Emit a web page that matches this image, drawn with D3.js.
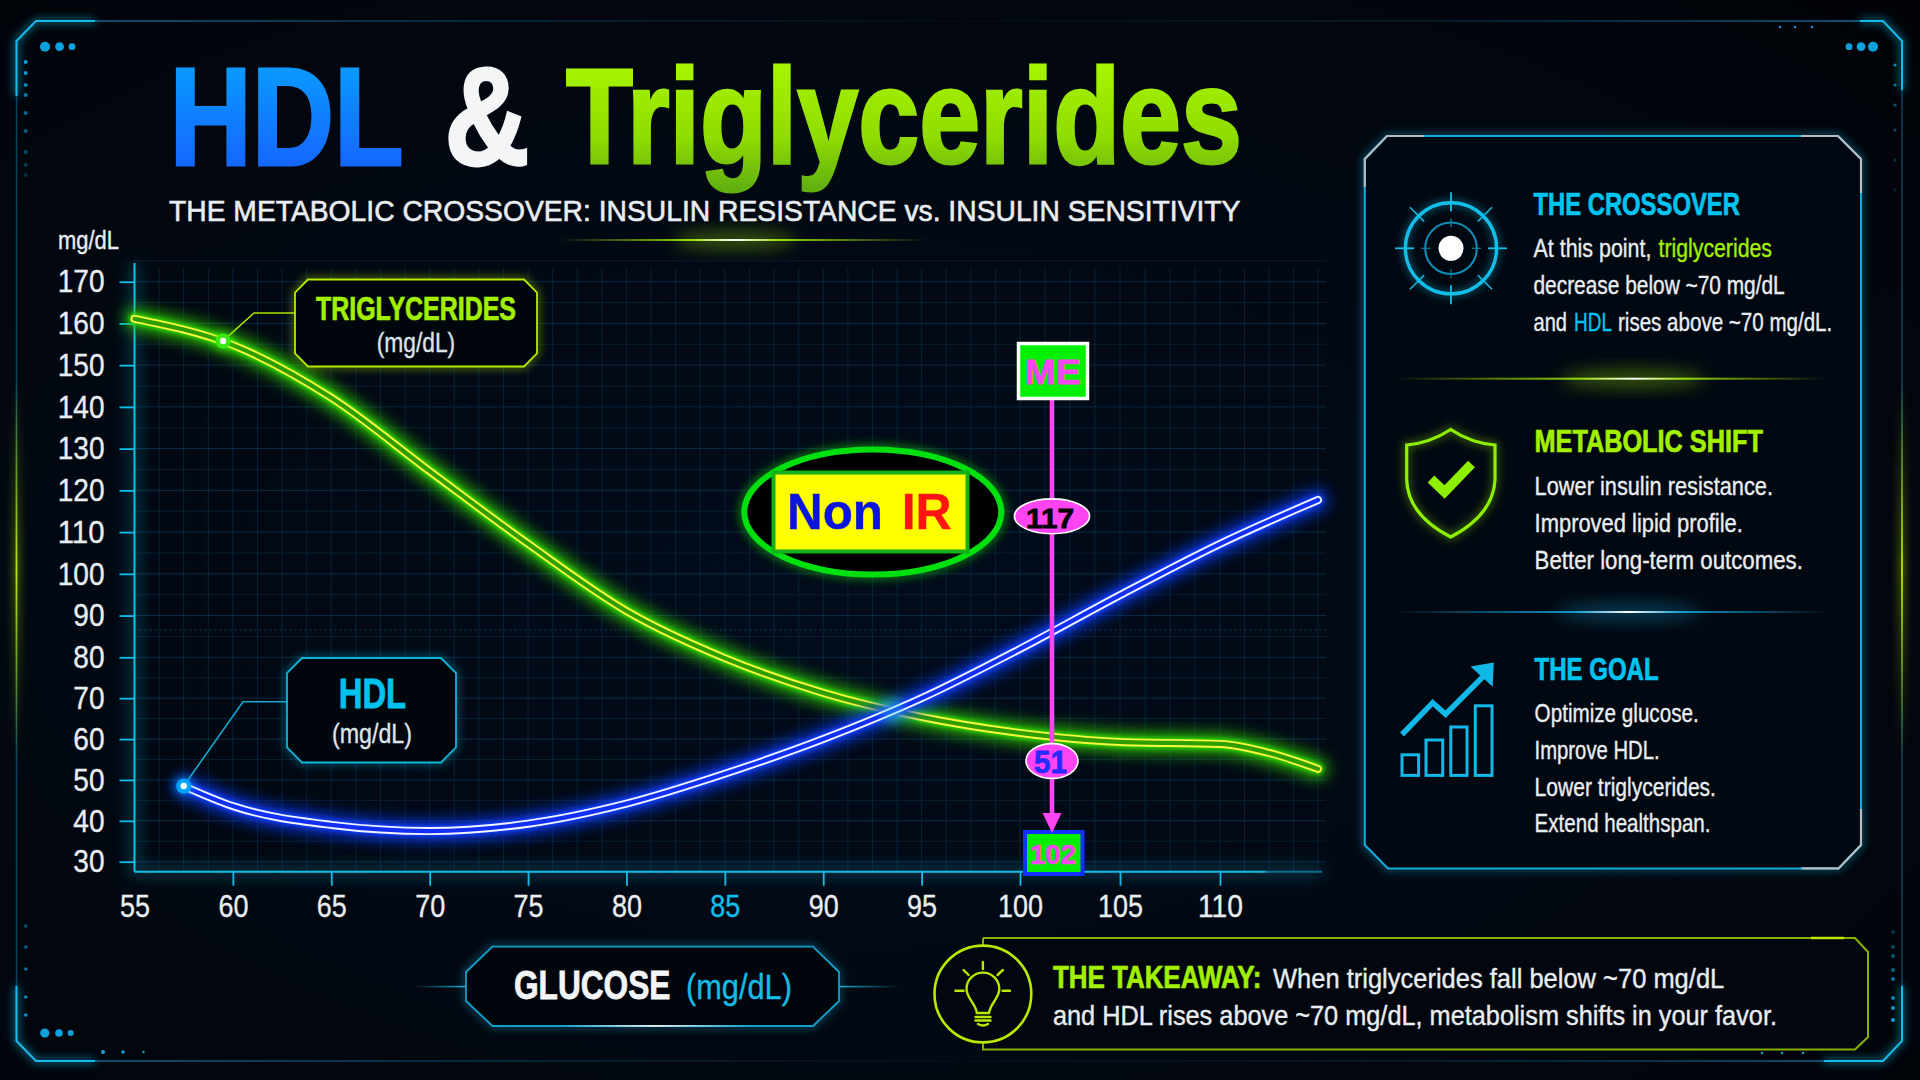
<!DOCTYPE html>
<html lang="en">
<head>
<meta charset="UTF-8" />
<title>HDL &amp; Triglycerides</title>
<style>
  html, body { margin: 0; padding: 0; background: #02050b; overflow: hidden; }
  svg { display: block; }
  text { font-family: "Liberation Sans Narrow", "Liberation Sans", Arial, sans-serif; }
</style>
</head>
<body>
<svg id="chart" width="1920" height="1080"></svg>
<script src="https://d3js.org/d3.v7.min.js"></script>
<script>
// values
const triGlucose = [55, 60, 65, 70, 75, 80, 85, 90, 95, 100, 105, 110, 112.5, 115];
const triValues = [161.1, 154.8, 142.2, 124.6, 107.2, 91.1, 79.8, 71.3, 65.4, 61.5, 59.3, 58.8, 56.6, 52.7];
const hdlGlucose = [57.5, 60, 65, 70, 75, 80, 85, 90, 95, 100, 105, 110, 115];
const hdlValues = [48.5, 43.6, 39.0, 37.5, 39.3, 44.2, 51.5, 60.0, 70.0, 82.0, 94.9, 107.2, 117.7];
const xTicks = [55, 60, 65, 70, 75, 80, 85, 90, 95, 100, 105, 110];
const yTicks = [30, 40, 50, 60, 70, 80, 90, 100, 110, 120, 130, 140, 150, 160, 170];
const triMarker = [59.5, 155.8];
const meGlucose = 101.6;

const CYAN = '#12bfe9', LIME = '#a2f000', WHITE = '#e9edf0', MAGENTA = '#ff44f2';

const svg = d3.select('#chart');
const defs = svg.append('defs');

function blur(id, s) {
  defs.append('filter').attr('id', id)
    .attr('x', '-50%').attr('y', '-50%').attr('width', '200%').attr('height', '200%')
    .attr('filterUnits', 'objectBoundingBox')
    .append('feGaussianBlur').attr('stdDeviation', s);
}
blur('b2', 2); blur('b4', 4); blur('b8', 8); blur('b14', 14);

function linGrad(id, coords, stops) {
  const g = defs.append('linearGradient').attr('id', id).attr('gradientUnits', 'userSpaceOnUse')
    .attr('x1', coords[0]).attr('y1', coords[1]).attr('x2', coords[2]).attr('y2', coords[3]);
  stops.forEach(s => g.append('stop').attr('offset', s[0]).attr('stop-color', s[1]).attr('stop-opacity', s[2] === undefined ? 1 : s[2]));
}
// title gradients run in the text's own space, baseline at 0
linGrad('hdlTitle', [0, -103, 0, 1], [[0, '#0a9cff'], [1, '#1566ff']]);
linGrad('triTitle', [0, -101, 0, 25], [[0, '#a8f500'], [0.6, '#8fdc00'], [1, '#62b010']]);

// text helper, w squeezes the run to the width it has in the picture
function label(parent, x, y, str, size, fill, o = {}) {
  const t = parent.append('text').text(str)
    .attr('font-size', size).attr('fill', fill)
    .attr('font-weight', o.bold ? 700 : 400)
    .attr('stroke', fill).attr('stroke-width', o.thick === undefined ? 0.35 : o.thick);
  if (o.sans) t.style('font-family', '"Liberation Sans", Arial, sans-serif');
  const sx = o.w ? o.w / t.node().getComputedTextLength() : 1;
  t.attr('transform', `translate(${x},${y}) scale(${sx},1)`);
  return t;
}

// background
const bg = defs.append('radialGradient').attr('id', 'bgGrad').attr('cx', '45%').attr('cy', '55%').attr('r', '75%');
bg.append('stop').attr('offset', 0).attr('stop-color', '#020c1b');
bg.append('stop').attr('offset', 0.7).attr('stop-color', '#02070f');
bg.append('stop').attr('offset', 1).attr('stop-color', '#010308');
svg.append('rect').attr('width', 1920).attr('height', 1080).attr('fill', 'url(#bgGrad)');

// outer frame
const frame = svg.append('g').attr('fill', 'none');
linGrad('frameTop', [36, 0, 1884, 0], [[0, '#0f6f9c'], [0.3, '#0b3c58', 0.6], [0.5, '#0b3c58', 0.1], [0.75, '#0b3c58', 0.5], [1, '#0f6f9c']]);
linGrad('sideGreen', [0, 380, 0, 760], [[0, '#a8e000', 0], [0.5, '#c8f000', 0.9], [1, '#a8e000', 0]]);
frame.append('path').attr('d', 'M36,21H1883').attr('stroke', 'url(#frameTop)').attr('stroke-width', 1.5);
frame.append('path').attr('d', 'M36,1061H1883').attr('stroke', 'url(#frameTop)').attr('stroke-width', 1.5);
frame.append('path').attr('d', 'M16.5,41V1041M1902,41V1041').attr('stroke', '#0b4462').attr('stroke-width', 1.5);
const corners = 'M16.5,96V41L36,21H95 M1860,21H1883L1902,41V90 M16.5,986V1041L36,1061H95 M1824,1061H1883L1902,1041V986';
frame.append('path').attr('d', corners).attr('stroke', CYAN).attr('stroke-width', 4).attr('filter', 'url(#b4)').attr('opacity', 0.7);
frame.append('path').attr('d', corners).attr('stroke', '#17b9e6').attr('stroke-width', 2);
frame.append('path').attr('d', 'M16.5,380V760M1902,380V760').attr('stroke', 'url(#sideGreen)').attr('stroke-width', 1.8);
frame.append('path').attr('d', 'M16.5,380V760M1902,380V760').attr('stroke', 'url(#sideGreen)').attr('stroke-width', 6).attr('filter', 'url(#b4)').attr('opacity', 0.5);

// little hud dots
const deco = svg.append('g').attr('fill', '#0ea2dc');
[[45, 46.7, 5], [59.6, 46.7, 4.4], [72, 46.7, 3.4], [1873, 46.7, 5], [1861, 46.7, 4.4], [1849, 46.7, 3.4],
 [44.8, 1033, 4.6], [59, 1033, 3.8], [70.6, 1033, 3], [103, 1052, 2], [123, 1052, 1.8], [143.5, 1052, 1.2],
 [1780, 27, 1.2], [1795, 27, 1.2], [1812, 27, 1.2], [1762, 1053, 1.2], [1782, 1053, 1.2], [1803, 1053, 1.2]]
  .forEach(d => deco.append('circle').attr('cx', d[0]).attr('cy', d[1]).attr('r', d[2]));
[62, 73, 85, 95, 113, 131, 152, 165, 175].forEach((y, i) =>
  deco.append('circle').attr('cx', 25.7).attr('cy', y).attr('r', 2).attr('opacity', 1 - i * 0.09));
[926, 947, 969, 997, 1015].forEach((y, i) =>
  deco.append('circle').attr('cx', 25.8).attr('cy', y).attr('r', 1.8).attr('opacity', 0.5 + i * 0.1));
[932, 947, 956, 970, 979, 998, 1008, 1020].forEach((y, i) =>
  deco.append('circle').attr('cx', 1893).attr('cy', y).attr('r', 2).attr('opacity', 0.3 + i * 0.1));
[65, 85, 105, 130, 160, 190].forEach((y, i) =>
  deco.append('circle').attr('cx', 1895).attr('cy', y).attr('r', 1.6).attr('opacity', 0.8 - i * 0.12));

// title
const title = svg.append('g');
label(title, 169.5, 165, 'HDL', 140, 'url(#hdlTitle)', { bold: true, w: 234, thick: 3 });
label(title, 444.5, 165, '&', 140, '#f4f5f6', { bold: true, w: 85, thick: 3 });
label(title, 566, 163.3, 'Triglycerides', 136, 'url(#triTitle)', { bold: true, w: 676, thick: 3 });
label(title, 169, 221, 'THE METABOLIC CROSSOVER: INSULIN RESISTANCE vs. INSULIN SENSITIVITY', 29, WHITE, { w: 1072, thick: 0.6 });

function sparkle(parent, x1, x2, xc, y, color) {
  const id = 'sp' + y;
  linGrad(id, [x1, 0, x2, 0], [[0, color, 0], [(xc - x1) / (x2 - x1) - 0.12, color, 0.9], [(xc - x1) / (x2 - x1), '#ffffff', 1], [(xc - x1) / (x2 - x1) + 0.12, color, 0.9], [1, color, 0]]);
  parent.append('ellipse').attr('cx', xc).attr('cy', y).attr('rx', (x2 - x1) / 6).attr('ry', 10)
    .attr('fill', color).attr('opacity', 0.3).attr('filter', 'url(#b8)');
  parent.append('rect').attr('x', x1).attr('y', y - 1).attr('width', x2 - x1).attr('height', 2).attr('fill', `url(#${id})`);
}
sparkle(svg, 560, 928, 735, 240, LIME);

// scales, the picture's ticks are not quite evenly spaced
const x = d3.scaleLinear().domain([55, 100, 110, 115]).range([134.5, 1020, 1220, 1318]);
const y = d3.scaleLinear().domain([30, 80, 170]).range([861.7, 657.3, 281.7]);
const axisY = 871.7;

// grid
const grid = svg.append('g').attr('stroke', '#0c3350').attr('stroke-width', 1);
d3.range(55, 116, 1.25).slice(1).forEach(v =>
  grid.append('line').attr('x1', x(v)).attr('x2', x(v)).attr('y1', 268).attr('y2', axisY).attr('opacity', 0.55));
d3.range(30, 176, 5).forEach(v =>
  grid.append('line').attr('x1', x(55)).attr('x2', 1326).attr('y1', y(v)).attr('y2', y(v)).attr('opacity', v % 10 === 0 ? 0.8 : 0.5));
grid.append('line').attr('x1', x(55)).attr('x2', 1326).attr('y1', 630).attr('y2', 630)
  .attr('stroke', '#0e4266').attr('stroke-dasharray', '2,3');

// axes
const axisLines = svg.append('g').attr('fill', 'none');
linGrad('xAxisFade', [134, 0, 1322, 0], [[0, CYAN], [0.95, CYAN], [0.955, '#0d6d90'], [1, '#0d6d90']]);
axisLines.append('path').attr('d', `M${x(55)},263V${axisY}H1322`).attr('stroke', CYAN).attr('stroke-width', 7).attr('filter', 'url(#b8)').attr('opacity', 0.4);
axisLines.append('path').attr('d', `M${x(55)},263V${axisY}`).attr('stroke', CYAN).attr('stroke-width', 2);
axisLines.append('path').attr('d', `M${x(55)},${axisY}H1322`).attr('stroke', 'url(#xAxisFade)').attr('stroke-width', 2);

const gx = svg.append('g').attr('transform', `translate(0,${axisY})`)
  .call(d3.axisBottom(x).tickValues(xTicks).tickSize(14).tickPadding(9).tickSizeOuter(0));
const gy = svg.append('g').attr('transform', `translate(${x(55)},0)`)
  .call(d3.axisLeft(y).tickValues(yTicks).tickSize(15).tickPadding(15).tickSizeOuter(0));
[gx, gy].forEach(g => {
  g.select('.domain').remove();
  g.attr('font-family', null).attr('font-size', null);
  g.selectAll('line').attr('stroke', CYAN).attr('stroke-width', 1.8);
  g.selectAll('text').attr('fill', WHITE).attr('font-size', 32)
    .attr('stroke', WHITE).attr('stroke-width', 0.35);
});
gx.selectAll('.tick').filter(d => d === 55).select('line').remove();
gx.selectAll('text').attr('font-size', 31)
  .attr('fill', d => d === 85 ? '#12bfe9' : WHITE).attr('stroke', d => d === 85 ? '#12bfe9' : WHITE);
// tick digits are condensed in the picture
gy.selectAll('text').each(function (d) {
  const t = d3.select(this), px = +t.attr('x'), w = String(d).length * 15.6;
  t.attr('x', 0).attr('transform', `translate(${px},0) scale(${w / this.getComputedTextLength()},1)`);
});
gx.selectAll('text').each(function (d) {
  const w = String(d).length * 15;
  d3.select(this).attr('transform', `scale(${w / this.getComputedTextLength()},1)`);
});
label(svg, 58, 249, 'mg/dL', 26, WHITE, { w: 61 });

// curves
const line = d3.line().x(d => x(d[0])).y(d => y(d[1])).curve(d3.curveMonotoneX);
const triPts = d3.zip(triGlucose, triValues);
const hdlPts = d3.zip(hdlGlucose, hdlValues);

function tube(pts, glow, edge, core) {
  const g = svg.append('g').attr('fill', 'none').attr('stroke-linecap', 'round');
  g.append('path').attr('d', line(pts)).attr('stroke', glow).attr('stroke-width', 20).attr('filter', 'url(#b8)').attr('opacity', 0.85);
  g.append('path').attr('d', line(pts)).attr('stroke', glow).attr('stroke-width', 11).attr('filter', 'url(#b2)');
  g.append('path').attr('d', line(pts)).attr('stroke', edge).attr('stroke-width', 8);
  g.append('path').attr('d', line(pts)).attr('stroke', core).attr('stroke-width', 4.2);
}
tube(triPts, '#2ed400', '#f6f83c', '#2f9e00');
tube(hdlPts, '#0f3dff', '#f0f4ff', '#1230f5');

// crossover spot
svg.append('circle').attr('cx', x(93.5)).attr('cy', y(67)).attr('r', 12).attr('fill', '#2fd8e0').attr('opacity', 0.35).attr('filter', 'url(#b4)');

// chamfered box
function chamfer(l, t, r, b, c) {
  return `M${l + c},${t}H${r - c}L${r},${t + c}V${b - c}L${r - c},${b}H${l + c}L${l},${b - c}V${t + c}Z`;
}
function box(parent, d, stroke, sw = 1.8, fill = '#01060d') {
  parent.append('path').attr('d', d).attr('fill', 'none').attr('stroke', stroke).attr('stroke-width', sw + 2.5).attr('filter', 'url(#b4)').attr('opacity', 0.55);
  parent.append('path').attr('d', d).attr('fill', fill).attr('stroke', stroke).attr('stroke-width', sw);
}

// series callouts
const callouts = svg.append('g');
callouts.append('path').attr('d', `M${x(triMarker[0])},${y(triMarker[1])}L254,313H295`).attr('fill', 'none').attr('stroke', '#a8e000').attr('stroke-width', 1.6);
box(callouts, chamfer(295, 279.5, 537, 366.5, 13), '#b4ec00');
label(callouts, 316, 320, 'TRIGLYCERIDES', 33, LIME, { bold: true, w: 200, thick: 0.7 });
label(callouts, 376.7, 351.5, '(mg/dL)', 27, '#dfe3e6', { w: 78.5 });

callouts.append('path').attr('d', `M${x(hdlGlucose[0])},${y(hdlValues[0])}L243,701.7H287`).attr('fill', 'none').attr('stroke', '#10a8cc').attr('stroke-width', 1.6);
box(callouts, chamfer(287, 658, 456, 762.5, 15), '#10b4d8');
label(callouts, 338.7, 707.7, 'HDL', 42, '#00c2ee', { bold: true, w: 67.5, thick: 0.8 });
label(callouts, 332, 743, '(mg/dL)', 27, '#dfe3e6', { w: 80 });

// end markers
[[triMarker, '#39e80e'], [[hdlGlucose[0], hdlValues[0]], '#00a4ff']].forEach(([p, c]) => {
  svg.append('circle').attr('cx', x(p[0])).attr('cy', y(p[1])).attr('r', 10).attr('fill', c).attr('opacity', 0.5).attr('filter', 'url(#b4)');
  svg.append('circle').attr('cx', x(p[0])).attr('cy', y(p[1])).attr('r', 7.5).attr('fill', c);
  svg.append('circle').attr('cx', x(p[0])).attr('cy', y(p[1])).attr('r', 3.2).attr('fill', '#fff');
});

// Non IR badge
const badge = svg.append('g');
badge.append('ellipse').attr('cx', 872.8).attr('cy', 512).attr('rx', 128.5).attr('ry', 62.5)
  .attr('fill', 'none').attr('stroke', '#18d60a').attr('stroke-width', 12).attr('filter', 'url(#b4)').attr('opacity', 0.45);
badge.append('ellipse').attr('cx', 872.8).attr('cy', 512).attr('rx', 128.5).attr('ry', 62.5)
  .attr('fill', '#000').attr('stroke', '#00e00f').attr('stroke-width', 6);
badge.append('rect').attr('x', 773.5).attr('y', 472.5).attr('width', 194).attr('height', 79)
  .attr('fill', '#ffff00').attr('stroke', '#12b01a').attr('stroke-width', 4);
label(badge, 787, 528.5, 'Non', 50, '#0a14dc', { bold: true, sans: true, w: 96 });
label(badge, 901.7, 528.5, 'IR', 50, '#ff1414', { bold: true, sans: true, w: 50 });

// ME marker
const me = svg.append('g');
const meX = x(meGlucose);
me.append('line').attr('x1', meX).attr('x2', meX).attr('y1', 398).attr('y2', 816).attr('stroke', MAGENTA).attr('stroke-width', 4.6);
me.append('rect').attr('x', 1025).attr('y', 832).attr('width', 57.5).attr('height', 42).attr('fill', '#00f000').attr('stroke', '#1230ff').attr('stroke-width', 4);
me.append('path').attr('d', `M${meX - 9.5},813H${meX + 9.5}L${meX},833Z`).attr('fill', MAGENTA);
me.append('rect').attr('x', 1018.5).attr('y', 343.5).attr('width', 69).attr('height', 55).attr('fill', '#00f000').attr('stroke', '#fff').attr('stroke-width', 3.5);
label(me, 1024.8, 384, 'ME', 35, MAGENTA, { bold: true, sans: true, w: 56, thick: 0.8 });
label(me, 1030, 863.5, '102', 27, MAGENTA, { bold: true, sans: true, w: 46, thick: 0.6 });
[[516.3, 37.6, '117', '#000', 1026, 527.5, 28, 48], [761, 26, '51', '#2a2aff', 1034, 772.5, 32, 33]].forEach(d => {
  me.append('ellipse').attr('cx', meX).attr('cy', d[0]).attr('rx', d[1]).attr('ry', 17.4)
    .attr('fill', MAGENTA).attr('stroke', '#fff').attr('stroke-width', 1.6);
  label(me, d[4], d[5], d[2], d[6], d[3], { bold: true, sans: true, w: d[7], thick: 0.8 });
});

// x axis title
const xt = svg.append('g');
linGrad('xtL', [413, 0, 466, 0], [[0, CYAN, 0], [1, CYAN, 0.9]]);
linGrad('xtR', [839, 0, 900, 0], [[0, CYAN, 0.9], [1, CYAN, 0]]);
xt.append('rect').attr('x', 413).attr('y', 985.8).attr('width', 53).attr('height', 1.6).attr('fill', 'url(#xtL)');
xt.append('rect').attr('x', 839).attr('y', 985.8).attr('width', 61).attr('height', 1.6).attr('fill', 'url(#xtR)');
box(xt, 'M492.5,946.7H813L839,972V1001L813,1026H492.5L466,1001V972Z', '#12a0c8');
linGrad('xtB', [560, 0, 750, 0], [[0, '#fff', 0], [0.5, '#fff', 0.9], [1, '#fff', 0]]);
xt.append('rect').attr('x', 560).attr('y', 1025).attr('width', 190).attr('height', 1.8).attr('fill', 'url(#xtB)');
label(xt, 514, 999, 'GLUCOSE', 40, '#f3f4f5', { bold: true, w: 156.5, thick: 0.8 });
label(xt, 686, 999, '(mg/dL)', 36, '#16bce4', { w: 106 });

// right panel
const panel = svg.append('g');
box(panel, 'M1387,136H1838L1861,159V845L1838.5,868.4H1388L1364.8,845V159Z', '#13acdb', 2, '#020811');
panel.append('path').attr('d', 'M1364.8,187V159L1387,136H1424 M1801,136H1838L1861,159V193 M1861,809V845L1838.5,868.4H1801.5')
  .attr('fill', 'none').attr('stroke', '#b4bcc2').attr('stroke-width', 2.2);

// crossover icon
const ic = panel.append('g').attr('transform', 'translate(1451,248.3)').attr('fill', 'none');
ic.append('circle').attr('r', 45.6).attr('stroke', CYAN).attr('stroke-width', 3.4);
ic.append('circle').attr('r', 45.6).attr('stroke', CYAN).attr('stroke-width', 5).attr('filter', 'url(#b4)').attr('opacity', 0.5);
ic.append('circle').attr('r', 25.8).attr('stroke', '#0e8fb6').attr('stroke-width', 2);
[0, 90, 180, 270].forEach(a => {
  ic.append('line').attr('transform', `rotate(${a})`).attr('x1', 37).attr('x2', 56).attr('stroke', CYAN).attr('stroke-width', 1.8);
  ic.append('line').attr('transform', `rotate(${a})`).attr('x1', 21).attr('x2', 30).attr('stroke', '#0e7fa4').attr('stroke-width', 1.2);
  ic.append('line').attr('transform', `rotate(${a + 45})`).attr('x1', 38).attr('x2', 58).attr('stroke', CYAN).attr('stroke-width', 1.5);
});
ic.append('circle').attr('r', 12.5).attr('fill', '#fff');

// shield icon
panel.append('path').attr('d', 'M1450.7,429.5Q1430,443 1406.7,445V480Q1408,515 1450.7,537Q1493,515 1495,480V445Q1471,443 1450.7,429.5Z')
  .attr('fill', 'none').attr('stroke', '#8ef000').attr('stroke-width', 6).attr('filter', 'url(#b4)').attr('opacity', 0.4);
panel.append('path').attr('d', 'M1450.7,429.5Q1430,443 1406.7,445V480Q1408,515 1450.7,537Q1493,515 1495,480V445Q1471,443 1450.7,429.5Z')
  .attr('fill', 'none').attr('stroke', '#8ef000').attr('stroke-width', 3.2);
panel.append('path').attr('d', 'M1431,479L1444.5,492L1471.5,464').attr('fill', 'none').attr('stroke', '#8ef000').attr('stroke-width', 9.5);

// goal icon
[[1402, 754.8, 16.6], [1426, 740, 16.7], [1450.8, 727, 16.2], [1475.3, 705.8, 16.7]].forEach(d => {
  panel.append('rect').attr('x', d[0]).attr('y', d[1]).attr('width', d[2]).attr('height', 775.4 - d[1])
    .attr('fill', 'none').attr('stroke', '#12b8e8').attr('stroke-width', 3);
});
panel.append('path').attr('d', 'M1402,734.5L1432.7,702.7L1445.6,714.2L1482.7,677').attr('fill', 'none').attr('stroke', '#12b8e8').attr('stroke-width', 5.5);
panel.append('path').attr('d', 'M1470.5,666.4L1493.8,662.5L1492.7,686.7Z').attr('fill', '#12b8e8');

// panel copy
const HEAD = 31, BODY = 25;
const H = { bold: true, thick: 0.7 };
label(panel, 1533.5, 215, 'THE CROSSOVER', HEAD, '#00c4f0', { ...H, w: 206.5 });
label(panel, 1533.5, 256.7, 'At this point,', BODY, WHITE, { w: 118 });
label(panel, 1658.5, 256.7, 'triglycerides', BODY, LIME, { w: 113.5 });
label(panel, 1533.5, 294, 'decrease below ~70 mg/dL', BODY, WHITE, { w: 251.5 });
label(panel, 1533.5, 331, 'and', BODY, WHITE, { w: 33.5 });
label(panel, 1574, 331, 'HDL', BODY, '#00c4f0', { w: 38 });
label(panel, 1618, 331, 'rises above ~70 mg/dL.', BODY, WHITE, { w: 214.4 });
sparkle(panel, 1393, 1825, 1633, 378.7, LIME);

label(panel, 1534.5, 451.7, 'METABOLIC SHIFT', HEAD, LIME, { ...H, w: 228.5 });
label(panel, 1534.6, 494.5, 'Lower insulin resistance.', BODY, WHITE, { w: 238.4 });
label(panel, 1534.6, 531.7, 'Improved lipid profile.', BODY, WHITE, { w: 208.4 });
label(panel, 1534.6, 568.8, 'Better long-term outcomes.', BODY, WHITE, { w: 268.4 });
sparkle(panel, 1392, 1829, 1629, 612, '#12a4dc');

label(panel, 1534.6, 679.8, 'THE GOAL', HEAD, '#00c4f0', { ...H, w: 124 });
label(panel, 1534.6, 722.2, 'Optimize glucose.', BODY, WHITE, { w: 164.2 });
label(panel, 1534.6, 759.4, 'Improve HDL.', BODY, WHITE, { w: 125 });
label(panel, 1534.6, 795.7, 'Lower triglycerides.', BODY, WHITE, { w: 181.4 });
label(panel, 1534.6, 832, 'Extend healthspan.', BODY, WHITE, { w: 176 });

// takeaway
const take = svg.append('g');
take.append('path').attr('d', 'M983,938H1855L1868,952V1037L1855,1049.5H983V938').attr('fill', '#02060e').attr('stroke', '#86b000').attr('stroke-width', 2);
take.append('path').attr('d', 'M1811,938H1844').attr('stroke', '#bce800').attr('stroke-width', 2.4);
take.append('circle').attr('cx', 982.9).attr('cy', 994).attr('r', 48.4).attr('fill', '#02060e').attr('stroke', '#b8e800').attr('stroke-width', 2.6);
const bulb = take.append('g').attr('fill', 'none').attr('stroke', '#b8e800').attr('stroke-width', 2.4).attr('stroke-linecap', 'round');
bulb.append('path').attr('d', 'M976.8,1013C976,1004 966.5,998 966.5,989A16.4,16.4 0 0 1 999.3,989C999.3,998 990,1004 989,1013Z');
bulb.append('path').attr('d', 'M975.5,1017H990.5M975.5,1020.5H990.5M978,1024Q983,1027 988,1024');
bulb.append('path').attr('d', 'M982.9,962V969M963.6,970L968.6,975M1002.9,970L997.5,975M955.4,990.7H963.6M1002.5,990.7H1010');
label(take, 1052.9, 988.3, 'THE TAKEAWAY:', 31, LIME, { ...H, w: 208.5 });
label(take, 1273, 988.3, 'When triglycerides fall below ~70 mg/dL', 27, WHITE, { w: 451.4 });
label(take, 1052.9, 1025, 'and HDL rises above ~70 mg/dL, metabolism shifts in your favor.', 27, WHITE, { w: 724.5 });
</script>
</body>
</html>
